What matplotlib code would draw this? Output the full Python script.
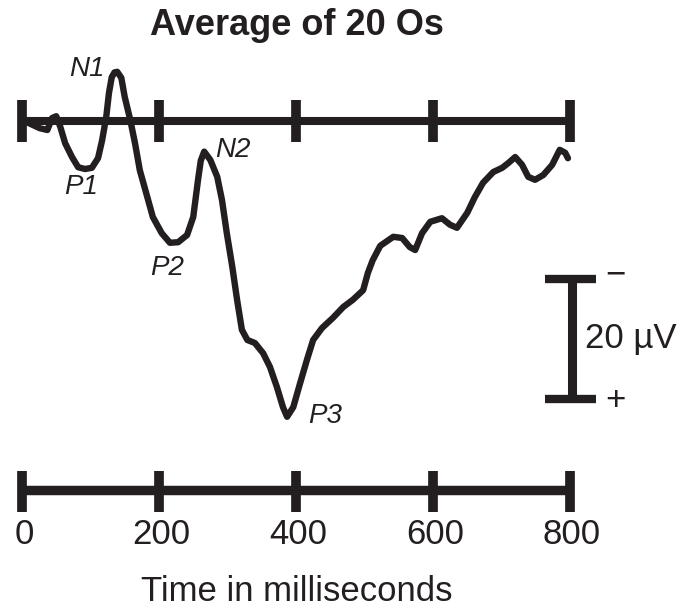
import matplotlib
matplotlib.use("Agg")
import matplotlib.pyplot as plt

# Grand-average ERP waveform (negative plotted up)
time_ms = [0, 9, 26, 37, 44, 50, 56, 63, 73, 82,
           92, 102, 111, 117, 123, 127, 131, 135, 139, 145, 150,
           158, 165, 172, 183, 191, 204, 216, 228, 241, 250,
           257, 261, 266, 275, 285, 292, 299, 307, 314, 321,
           329, 340, 352, 362, 372, 381, 387, 396, 406, 416,
           425, 438, 454, 469, 483, 498, 505, 512, 523, 542,
           555, 566, 574, 584, 596, 613, 625, 635, 650, 661,
           673, 688, 701, 710, 720, 730, 739, 749, 761, 774,
           785, 793, 797]
amplitude_uv = [0, 0.3, 1.2, 1.5, -0.5, -0.8, 1.0, 3.7, 6.0, 7.7,
                8.0, 7.8, 6.2, 3.2, -0.7, -4.7, -7.3, -8.1, -8.2, -7.2, -4.0,
                -0.2, 3.7, 8.2, 12.7, 16.0, 18.7, 20.3, 20.2, 19.0, 16.0,
                9.8, 6.6, 5.1, 6.5, 9.3, 13.2, 18.7, 24.3, 29.8, 34.8,
                36.5, 37.0, 38.7, 41.0, 44.3, 47.7, 49.3, 47.7, 43.7, 39.8,
                36.5, 34.5, 32.8, 31.0, 29.8, 28.2, 25.3, 23.2, 20.8, 19.3,
                19.5, 21.0, 21.5, 18.7, 16.8, 16.2, 17.3, 17.8, 15.3, 12.7,
                10.3, 8.5, 7.8, 7.0, 6.0, 7.3, 9.3, 9.8, 9.0, 7.3,
                4.8, 5.3, 6.2]

tick_values = [0, 200, 400, 600, 800]
tick_labels = ["0", "200", "400", "600", "800"]

# Component labels: (name, time, amplitude)
components = [("N1", 95, -8.6), ("P1", 86, 11.0), ("P2", 212, 24.5),
              ("N2", 308, 4.8), ("P3", 442, 49.2)]

scale_uv = 20
scale_top = 26.3

INK = "#231f20"
plt.rcParams["font.family"] = ["Liberation Sans", "DejaVu Sans"]

fig = plt.figure(figsize=(6.82, 6.11), dpi=100)
ax = fig.add_axes([0, 0, 1, 1])
ax.set_xlim(-32.1, 963.5)
ax.set_ylim(81.67, -20.17)
ax.axis("off")

# Baseline time axis through the waveform
ax.plot([0, 800], [0, 0], color=INK, lw=5.8, solid_capstyle="butt")
ax.vlines(tick_values, -3.5, 3.5, color=INK, lw=7.0)

# Waveform
ax.plot(time_ms, amplitude_uv, color=INK, lw=4.6,
        solid_joinstyle="round", solid_capstyle="round")

for name, t, v in components:
    ax.text(t, v, name, fontsize=20, style="italic", color=INK,
            ha="center", va="center")

# Title
ax.text(401, -16, "Average of 20 Os", fontsize=26, fontweight="bold",
        color=INK, ha="center", va="center")

# Lower time axis with labels
axis_v = 61.5
ax.plot([0, 800], [axis_v, axis_v], color=INK, lw=6.8, solid_capstyle="butt")
ax.vlines(tick_values, axis_v - 3.1, axis_v + 3.6, color=INK, lw=7.0)
for tv, lab in zip(tick_values, tick_labels):
    ax.text(tv + 3, axis_v + 7.5, lab, fontsize=25, color=INK,
            ha="center", va="center")
ax.text(401, 78.5, "Time in milliseconds", fontsize=25, color=INK,
        ha="center", va="center")

# Amplitude scale bar
bar_t = 803
ax.plot([bar_t, bar_t], [scale_top, scale_top + scale_uv], color=INK,
        lw=6.5, solid_capstyle="butt")
ax.plot([764, 838], [scale_top, scale_top], color=INK, lw=6.0,
        solid_capstyle="butt")
ax.plot([764, 838], [scale_top + scale_uv, scale_top + scale_uv], color=INK,
        lw=6.0, solid_capstyle="butt")
ax.text(866, scale_top - 0.6, "\u2212", fontsize=25, color=INK,
        ha="center", va="center")
ax.text(866, scale_top + scale_uv + 0.3, "+", fontsize=25, color=INK,
        ha="center", va="center")
ax.text(822, scale_top + scale_uv / 2, f"{scale_uv} \u00b5V", fontsize=25,
        color=INK, ha="left", va="center")

fig.savefig("out.png", dpi=100)
